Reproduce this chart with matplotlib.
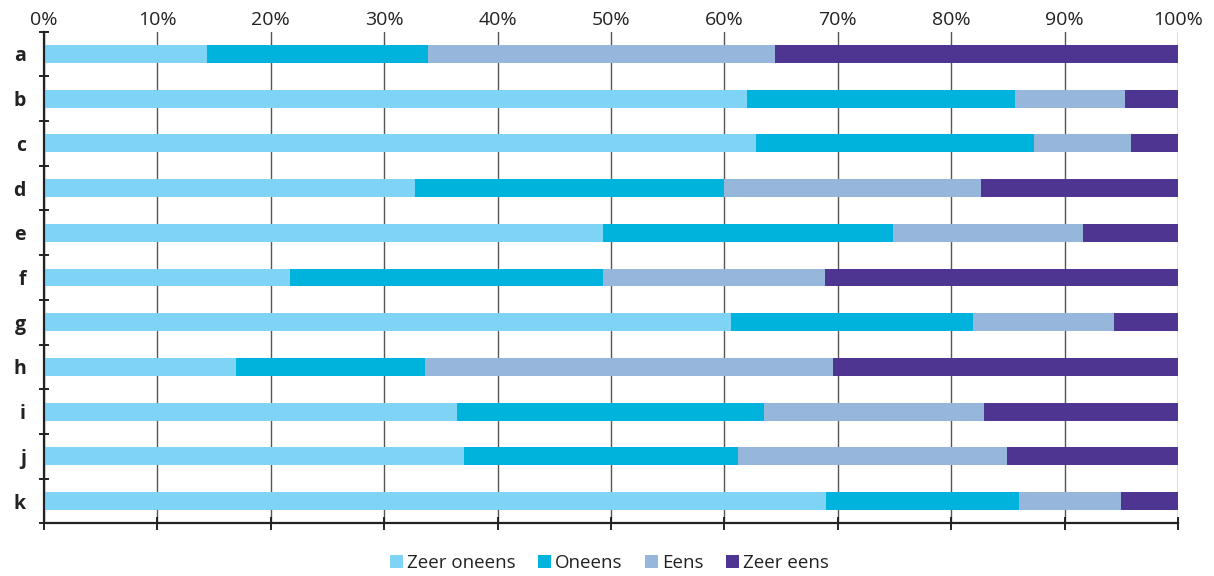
import numpy as np
import matplotlib.pyplot as plt
from matplotlib.patches import Patch

plt.rcParams['font.family'] = ['Open Sans', 'DejaVu Sans']

items = ['a', 'b', 'c', 'd', 'e', 'f', 'g', 'h', 'i', 'j', 'k']
# percentages per answer category
zeer_oneens = [14.4, 62.0, 62.8, 32.7, 49.3, 21.7, 60.6, 16.9, 36.4, 37.0, 69.0]
oneens = [19.5, 23.6, 24.5, 27.3, 25.6, 27.6, 21.3, 16.7, 27.1, 24.2, 17.0]
eens = [30.6, 9.7, 8.6, 22.6, 16.7, 19.6, 12.5, 36.0, 19.4, 23.7, 9.0]
zeer_eens = [35.5, 4.7, 4.1, 17.4, 8.4, 31.1, 5.6, 30.4, 17.1, 15.1, 5.0]

labels = ['Zeer oneens', 'Oneens', 'Eens', 'Zeer eens']
colors = ['#7fd3f4', '#00b3dc', '#96b6dc', '#4e3592']
series = [zeer_oneens, oneens, eens, zeer_eens]

fig = plt.figure(figsize=(12.14, 5.76), dpi=100)
ax = fig.add_axes([0.0362, 0.0913, 0.9341, 0.8538])

y = np.arange(len(items))
left = np.zeros(len(items))
for vals, col, lab in zip(series, colors, labels):
    vals = np.array(vals)
    ax.barh(y, vals, left=left, height=0.4, color=col, label=lab, zorder=2)
    left += vals

ax.set_xlim(0, 100)
ax.set_ylim(len(items) - 0.5, -0.5)

ax.set_xticks(np.arange(0, 101, 10))
ax.set_xticklabels([f'{v}%' for v in range(0, 101, 10)], fontsize=14, color='#222222')
ax.xaxis.tick_top()
ax.tick_params(axis='x', which='major', length=0, pad=2)
ax.grid(axis='x', color='#555555', linewidth=1.0, zorder=0)

# bottom ticks crossing the axis line
for v in range(0, 101, 10):
    ax.plot([v, v], [len(items) - 0.5 - 0.12, len(items) - 0.5 + 0.12], color='#222222',
            lw=1.4, clip_on=False, zorder=3)

ax.set_yticks(y)
ax.set_yticklabels(items, fontsize=14, fontweight='bold', color='#222222')
ax.tick_params(axis='y', which='major', length=0, pad=13)
ax.set_yticks(np.arange(-0.5, len(items) + 0.5, 1), minor=True)
ax.tick_params(axis='y', which='minor', length=7, width=1.4, direction='inout', color='#222222')

for s in ['top', 'right']:
    ax.spines[s].set_visible(False)
for s in ['left', 'bottom']:
    ax.spines[s].set_color('#222222')
    ax.spines[s].set_linewidth(1.6)
    ax.spines[s].set_zorder(3)

handles = [Patch(facecolor=c, edgecolor='none', label=l) for c, l in zip(colors, labels)]
fig.legend(handles=handles, loc='center', bbox_to_anchor=(0.502, 0.022), ncol=4, frameon=False,
           fontsize=13.5, handlelength=0.7, handleheight=0.7, handletextpad=0.2, columnspacing=1.2,
           labelcolor='#222222')

fig.savefig('out.png', dpi=100)
